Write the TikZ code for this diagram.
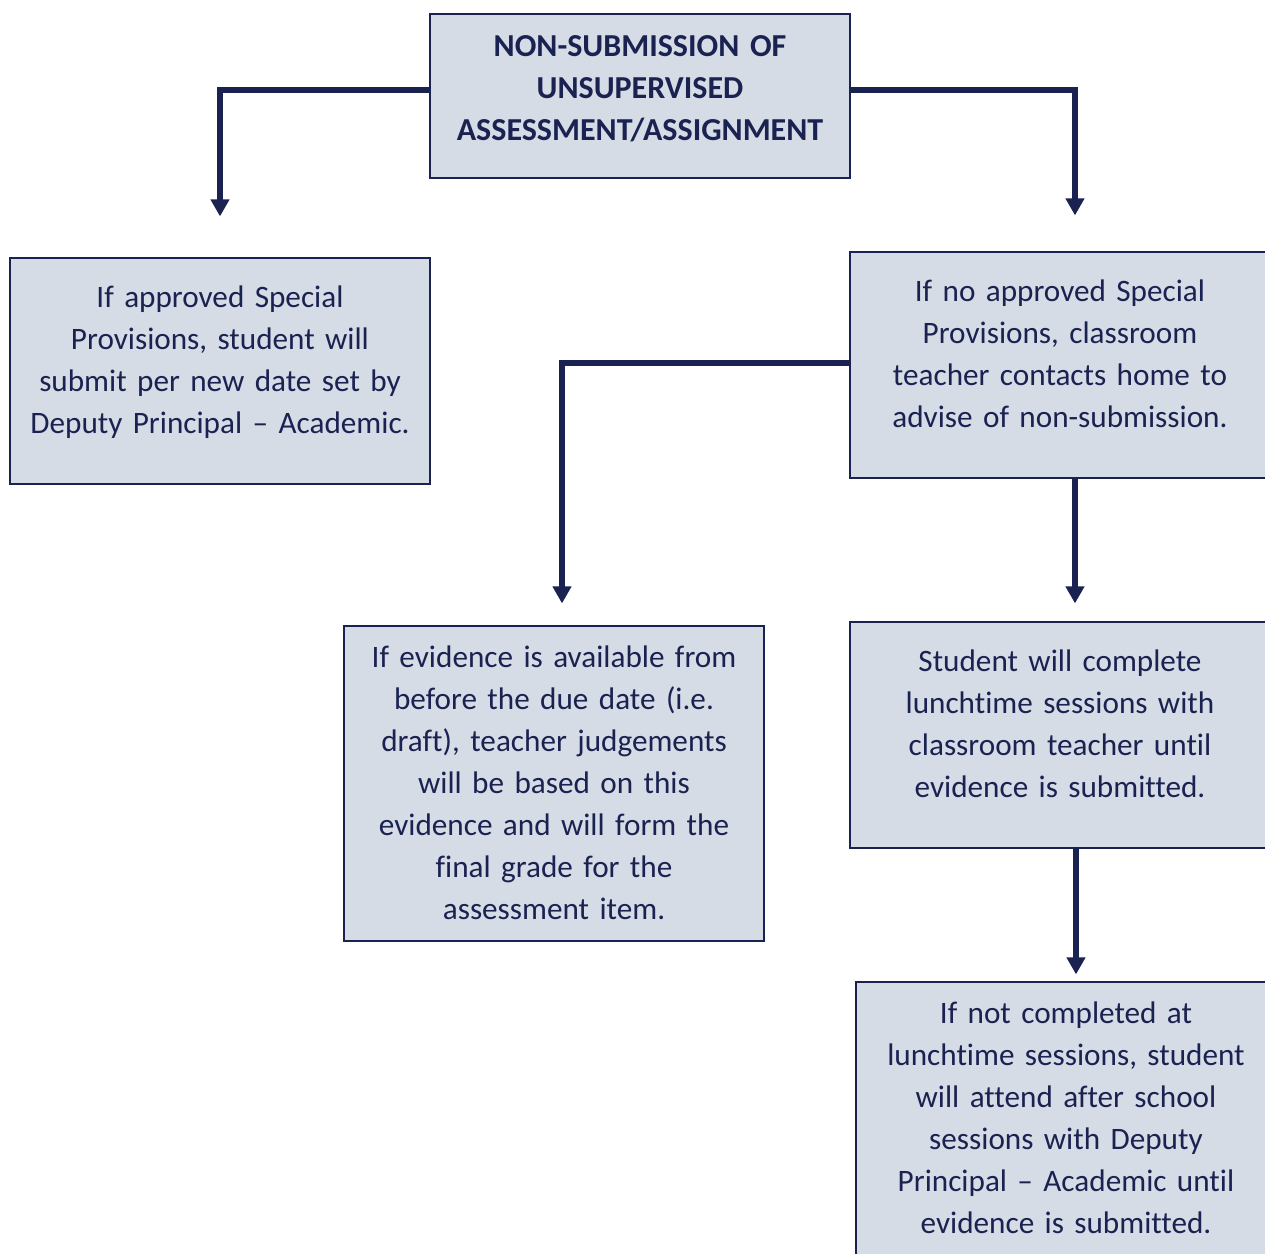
\documentclass[tikz,border=0pt]{standalone}
\usepackage{fontspec}
\setmainfont{Carlito}[Ligatures=NoCommon]
\usetikzlibrary{arrows.meta,positioning}
\definecolor{navy}{HTML}{1A2251}
\definecolor{boxfill}{HTML}{D6DCE5}
\tikzset{
  box/.style={draw=navy, fill=boxfill, line width=0.6pt, text=navy,
    text width=205pt, align=center, minimum width=210pt, inner sep=0pt,
    font=\fontsize{15.6}{21}\selectfont},
  lift/.style={execute at end node={\par\vspace*{#1}}},
  flow/.style={draw=navy, line width=2.8pt,
    -{Triangle[width=9pt,length=8.5pt]}}
}

\begin{document}
\begin{tikzpicture}[x=0.5pt,y=-0.5pt]
\useasboundingbox (0,0) rectangle (1265,1254);
\clip (0,0) rectangle (1265,1254);

\coordinate (t) at (640,96);
\node[box,lift=7.5pt,minimum height=82pt,font=\fontsize{16}{21}\selectfont\bfseries] (title) at (t)
  {NON-SUBMISSION OF\\UNSUPERVISED\\ASSESSMENT/ASSIGNMENT};

\coordinate (l) at (220,371);
\node[box,lift=9pt,minimum height=113pt] (approved) at (l)
  {If approved Special\\Provisions, student will\\submit per new date set by\\Deputy Principal – Academic.};

\coordinate (r1) at (1060,365);
\node[box,lift=11pt,minimum height=113pt] (noprov) at (r1)
  {If no approved Special\\Provisions, classroom\\teacher contacts home to\\advise of non-submission.};

\coordinate (m) at (554,783.5);
\node[box,lift=1pt,minimum height=157.5pt] (evidence) at (m)
  {If evidence is available from\\before the due date (i.e.\\draft), teacher judgements\\will be based on this\\evidence and will form the\\final grade for the\\assessment item.};

\coordinate (r2) at (1060,735);
\node[box,lift=11pt,minimum height=113pt] (lunch) at (r2)
  {Student will complete\\lunchtime sessions with\\classroom teacher until\\evidence is submitted.};

\coordinate (r3) at (1066,1128);
\node[box,lift=10pt,minimum height=146pt] (afterschool) at (r3)
  {If not completed at\\lunchtime sessions, student\\will attend after school\\sessions with Deputy\\Principal – Academic until\\evidence is submitted.};

% arrows
\draw[flow] ([yshift=3pt]title.west) -| ([yshift=20.5pt]approved.north);
\draw[flow] ([yshift=3pt]title.east) -| ([xshift=7.5pt,yshift=18pt]noprov.north);
\draw[flow] ([yshift=1pt]noprov.west) -| ([xshift=4pt,yshift=11pt]evidence.north);
\draw[flow] ([xshift=7.5pt]noprov.south) -- ([xshift=7.5pt,yshift=9pt]lunch.north);
\draw[flow] ([xshift=8pt]lunch.south) -- ([xshift=5pt,yshift=3.5pt]afterschool.north);
\end{tikzpicture}
\end{document}
